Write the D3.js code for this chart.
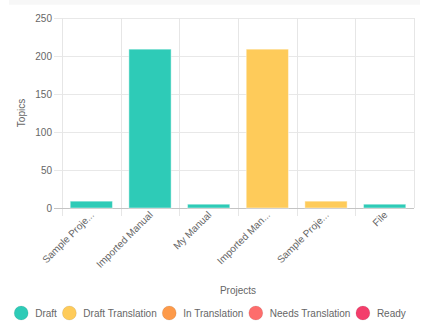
<!DOCTYPE html>
<html>
<head>
<meta charset="utf-8">
<script src="https://cdn.jsdelivr.net/npm/d3@7"></script>
<style>
  html, body { margin: 0; padding: 0; background: #fff; }
  svg { display: block; font-family: "Liberation Sans", Arial, sans-serif; }
</style>
</head>
<body>
<svg id="chart" width="426" height="324"></svg>
<script>
// ---- data ----
const projects = ["Sample Proje...", "Imported Manual", "My Manual", "Imported Man...", "Sample Proje...", "File"];
const statuses = ["Draft", "Draft Translation", "In Translation", "Needs Translation", "Ready"];
const statusColors = ["#2ecbb7", "#fecb5a", "#fd9a4a", "#fd6d6c", "#f33e6b"];
const draft            = [9, 209, 5, 0, 0, 5];
const draftTranslation = [0, 0, 0, 209, 9, 0];
const inTranslation    = [0, 0, 0, 0, 0, 0];
const needsTranslation = [0, 0, 0, 0, 0, 0];
const ready            = [0, 0, 0, 0, 0, 0];
const yTicks = [0, 50, 100, 150, 200, 250];
const yTitle = "Topics";
const xTitle = "Projects";

// ---- layout ----
const svg = d3.select("#chart");
const pLeft = 62, pRight = 414, pTop = 18, pBottom = 208;
const textColor = "#666";

svg.append("rect").attr("x", 9).attr("y", 0).attr("width", 411).attr("height", 4.7).attr("fill", "#f7f7f7");

const rows = projects.map((p, i) => ({
  idx: i,
  "Draft": draft[i],
  "Draft Translation": draftTranslation[i],
  "In Translation": inTranslation[i],
  "Needs Translation": needsTranslation[i],
  "Ready": ready[i]
}));

const x = d3.scaleBand().domain(projects.map((p, i) => i)).range([pLeft, pRight]).paddingInner(0).paddingOuter(0);
const y = d3.scaleLinear().domain([0, 250]).range([pBottom, pTop]);

// grid: horizontal
const g = svg.append("g");
g.selectAll("line.h").data(yTicks).join("line")
  .attr("x1", pLeft - 8).attr("x2", pRight)
  .attr("y1", d => Math.round(y(d)) + 0.5).attr("y2", d => Math.round(y(d)) + 0.5)
  .attr("stroke", d => d === 0 ? "#c4c4c4" : "#e8e8e8").attr("stroke-width", 1);

// grid: vertical (category boundaries)
const bounds = projects.map((p, i) => x(i)).concat([pRight]);
g.selectAll("line.v").data(bounds).join("line")
  .attr("x1", d => Math.round(d) + 0.5).attr("x2", d => Math.round(d) + 0.5)
  .attr("y1", pTop).attr("y2", (d, i) => i === bounds.length - 1 ? pBottom : pBottom + 8)
  .attr("stroke", "#e6e6e6").attr("stroke-width", 1);

// re-draw zero line on top
g.append("line").attr("x1", pLeft - 8).attr("x2", pRight)
  .attr("y1", Math.round(y(0)) + 0.5).attr("y2", Math.round(y(0)) + 0.5)
  .attr("stroke", "#c4c4c4");

// y tick labels
svg.append("g").selectAll("text").data(yTicks).join("text")
  .attr("x", pLeft - 10).attr("y", d => y(d)).attr("dy", "0.35em")
  .attr("text-anchor", "end").attr("font-size", 10).attr("fill", textColor)
  .text(d => d);

// bars (stacked)
const stack = d3.stack().keys(statuses)(rows);
const barW = x.bandwidth() * 0.72;
svg.append("g").selectAll("g").data(stack).join("g")
  .attr("fill", (d, i) => statusColors[i])
  .selectAll("rect").data(d => d.filter(s => s[1] - s[0] > 0)).join("rect")
  .attr("x", d => x(d.data.idx) + (x.bandwidth() - barW) / 2)
  .attr("width", barW)
  .attr("y", d => y(d[1]))
  .attr("height", d => y(d[0]) - y(d[1]))
  .attr("stroke", "rgba(255,255,255,0.45)").attr("stroke-width", 1);

// x tick labels
svg.append("g").selectAll("text").data(projects).join("text")
  .attr("transform", (d, i) => `translate(${x(i) + x.bandwidth() / 2 + 1},${pBottom + 5}) rotate(-45)`)
  .attr("text-anchor", "end").attr("dy", "0.35em")
  .attr("font-size", 10).attr("fill", textColor)
  .text(d => d);

// axis titles
svg.append("text").attr("transform", `translate(25,113) rotate(-90)`)
  .attr("text-anchor", "middle").attr("font-size", 10).attr("fill", textColor).text(yTitle);
svg.append("text").attr("x", 238).attr("y", 294)
  .attr("text-anchor", "middle").attr("font-size", 10).attr("fill", textColor).text(xTitle);

// legend
const lg = svg.append("g");
const items = statuses.map((s, i) => {
  const t = lg.append("text").attr("y", 313).attr("dy", "0.35em")
    .attr("font-size", 10).attr("fill", textColor).text(s);
  return { t, w: t.node().getComputedTextLength(), i };
});
const r = 7, gapText = 14, gapItem = 12.5;
const total = r + d3.sum(items, it => gapText + it.w) + (items.length - 1) * gapItem;
let cx = 210 - total / 2 + r;
items.forEach(it => {
  lg.append("circle").attr("cx", cx).attr("cy", 313).attr("r", r)
    .attr("fill", statusColors[it.i]).attr("stroke", "rgba(0,0,0,0.08)").attr("stroke-width", 1);
  it.t.attr("x", cx + gapText);
  cx = cx + gapText + it.w + gapItem;
});
</script>
</body>
</html>
